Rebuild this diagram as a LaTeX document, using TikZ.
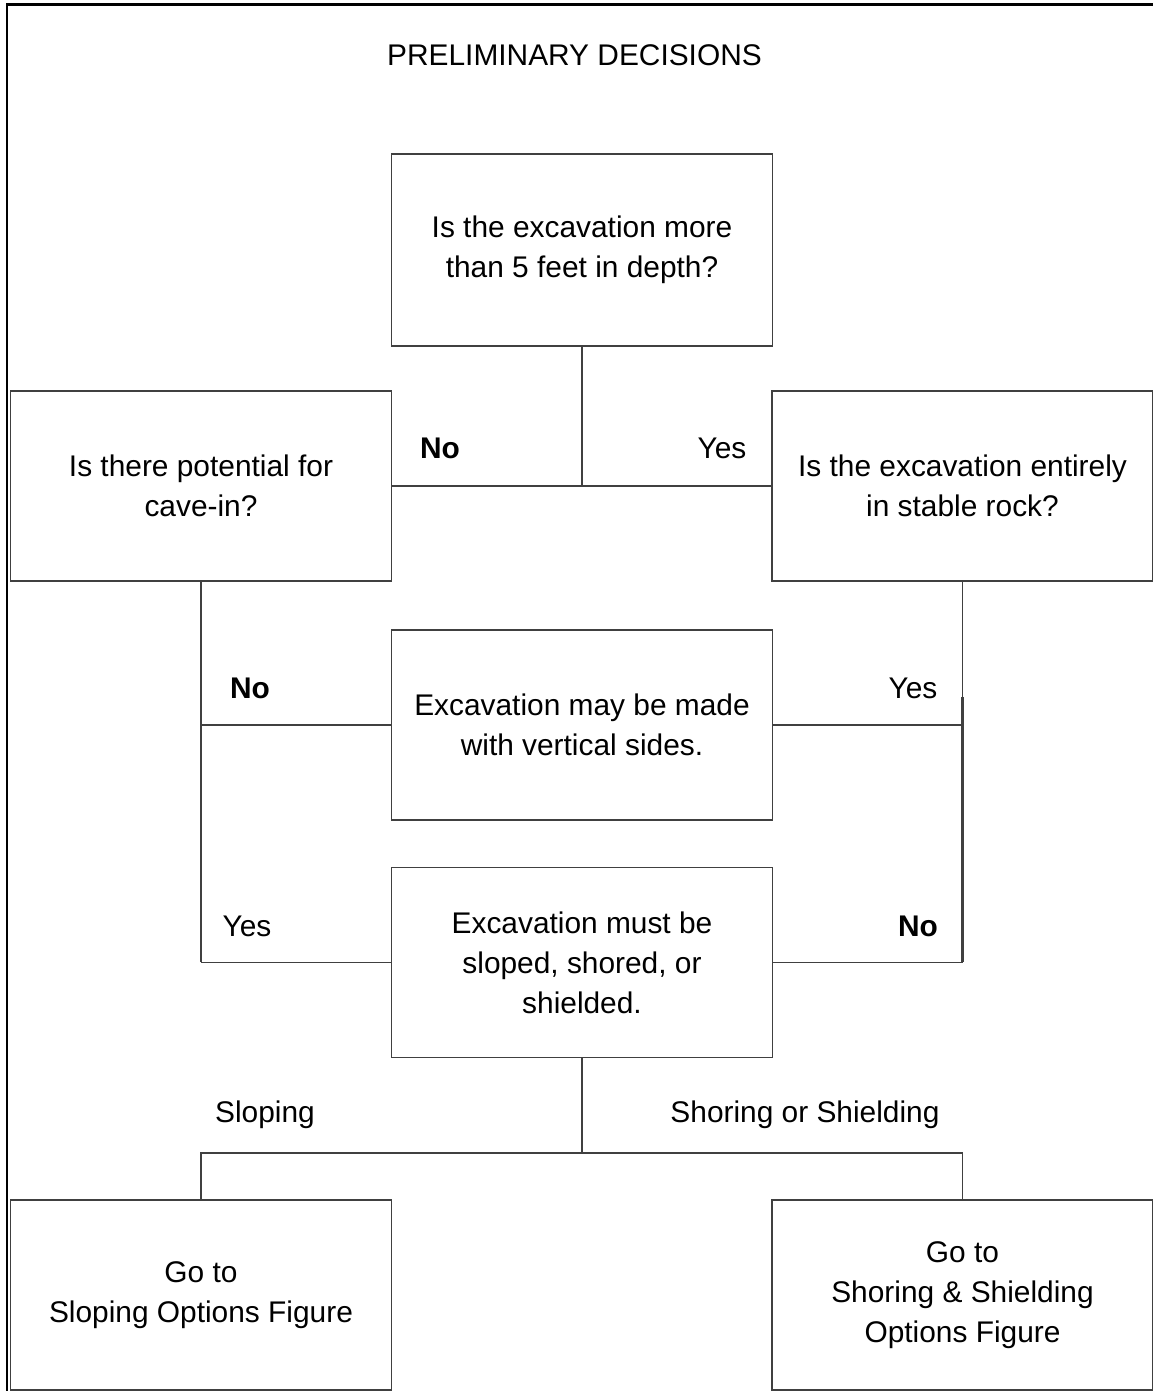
\documentclass[tikz,border=0pt]{standalone}
\usepackage{fontspec}
\setmainfont{Liberation Sans}
\usetikzlibrary{positioning}

\begin{document}
\begin{tikzpicture}[
    box/.style={draw=black!75, line width=1.1pt, rectangle, fill=white, align=center,
        inner sep=0pt, minimum width=7.62cm, minimum height=3.8cm},
    lbl/.style={font=\fontsize{17}{22.7}\selectfont},
    link/.style={draw=black!75, line width=1.1pt},
    font=\fontsize{17}{22.7}\selectfont
]

\useasboundingbox (0,0) rectangle (23.06,27.82);
\clip (0,0) rectangle (23.06,27.82);

% Cadre
\draw[line width=1.7pt] (0.14,-1) rectangle (24,27.72);
\node (title) at (11.49,26.72) {PRELIMINARY DECISIONS};

% Questions
\node[box, minimum height=3.84cm] (depth) at (11.64,22.82) {Is the excavation more\\than 5 feet in depth?};
\node[box] (cavein) at (4.02,18.1) {Is there potential for\\cave-in?};
\node[box] (rock) at (19.25,18.1) {Is the excavation entirely\\in stable rock?};

% Resultats
\node[box] (vertical) at (11.64,13.32) {Excavation may be made\\with vertical sides.};
\node[box] (sloped) at (11.64,8.57) {Excavation must be\\sloped, shored, or\\shielded.};

% Renvois
\node[box] (slopingfig) at (4.02,1.92) {Go to\\Sloping Options Figure};
\node[box] (shoringfig) at (19.25,1.92) {Go to\\Shoring \& Shielding\\Options Figure};

% Connexions
\draw[link] (depth.south) -- (depth.south |- cavein.east);
\draw[link] (cavein.east) -- (rock.west);

\draw[link] (cavein.south) -- ([yshift=0.56cm]cavein.south |- vertical.west);
\draw[link] (cavein.south |- vertical.west) -- (vertical.west);
\draw[link, line width=1.7pt] ([yshift=0.56cm]cavein.south |- vertical.west) -- (cavein.south |- sloped.west);
\draw[link] (cavein.south |- sloped.west) -- (sloped.west);

\draw[link] (rock.south) -- ([yshift=0.56cm]rock.south |- vertical.east);
\draw[link] (rock.south |- vertical.east) -- (vertical.east);
\draw[link, line width=1.7pt] ([yshift=0.56cm]rock.south |- vertical.east) -- (rock.south |- sloped.east);
\draw[link] (rock.south |- sloped.east) -- (sloped.east);

\coordinate (split) at (sloped.south |- 0,4.76);
\draw[link] (sloped.south) -- (split);
\draw[link] (slopingfig.north) |- (split) -| (shoringfig.north);

% Etiquettes
\node[lbl, font=\fontsize{17}{22.7}\selectfont\bfseries] (no1) at (8.8,18.86) {No};
\node[lbl] (yes1) at (14.44,18.86) {Yes};
\node[lbl, font=\fontsize{17}{22.7}\selectfont\bfseries] (no2) at (5.0,14.06) {No};
\node[lbl] (yes2) at (18.26,14.06) {Yes};
\node[lbl] (yes3) at (4.94,9.3) {Yes};
\node[lbl, font=\fontsize{17}{22.7}\selectfont\bfseries] (no3) at (18.36,9.3) {No};
\node[lbl] (sloping) at (5.3,5.52) {Sloping};
\node[lbl] (shoring) at (16.1,5.52) {Shoring or Shielding};

\end{tikzpicture}
\end{document}
